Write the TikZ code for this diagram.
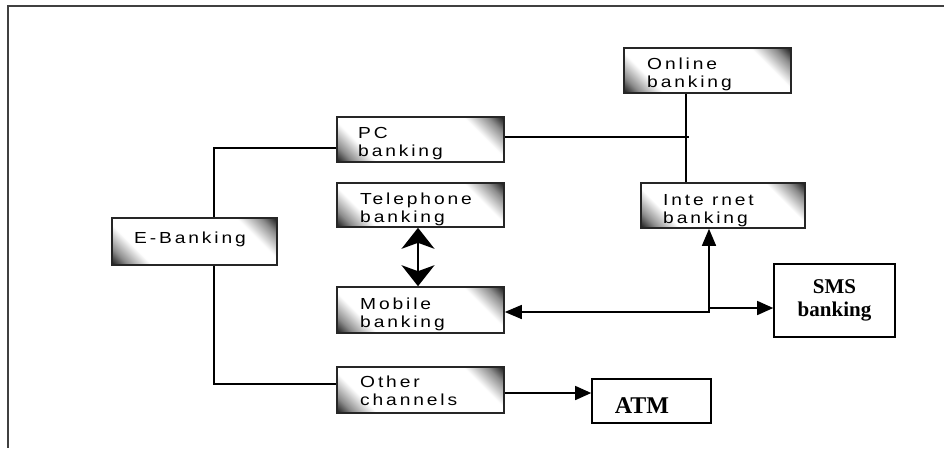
\documentclass[tikz,border=0pt]{standalone}
\usepackage{fontspec}
\setmainfont{Liberation Serif}
\newfontfamily\boxfont[FakeStretch=1.2,LetterSpace=18]{Liberation Sans}
\usetikzlibrary{arrows.meta}
\pgfdeclarehorizontalshading{cornershade}{100bp}{color(0bp)=(black); color(14.6bp)=(black!90); color(20bp)=(black!45); color(28bp)=(white); color(72bp)=(white); color(80bp)=(black!45); color(85.4bp)=(black!90); color(100bp)=(black)}
\tikzset{
  gbox/.style={draw=black!85, line width=1.6pt, shading=cornershade, shading angle=45, inner sep=0pt},
  wbox/.style={draw=black, line width=1.6pt, fill=white, inner sep=0pt},
  glabel/.style={font=\boxfont\fontsize{16}{18}\selectfont, align=left, inner sep=0pt, anchor=base west},
  slabel/.style={font=\bfseries\fontsize{21}{23}\selectfont, align=center},
  conn/.style={line width=1.5pt, draw=black},
  tip/.style={-{Triangle[length=16pt,width=14pt]}},
  bigtip/.style={{Stealth[length=21pt,width=33pt,inset=6pt]}-{Stealth[length=21pt,width=33pt,inset=6pt]}},
  midtip/.style={{Triangle[length=17pt,width=14pt]}-{Triangle[length=17pt,width=14pt]}},
  framepen/.style={line width=2.5pt, draw=black!75}
}
\begin{document}
\begin{tikzpicture}[x=1pt,y=-1pt]
\useasboundingbox (0,0) rectangle (944,448);
\draw[framepen] (944,6) -- (8,6) -- (8,448);

% shaded boxes
\node[gbox, minimum width=165pt, minimum height=47pt] (eb) at (194.5,241.5) {};
\node[gbox, minimum width=167pt, minimum height=45pt] (pc) at (420.5,139.5) {};
\node[gbox, minimum width=167pt, minimum height=44pt] (tel) at (420.5,205) {};
\node[gbox, minimum width=167pt, minimum height=46pt] (mob) at (420.5,310) {};
\node[gbox, minimum width=167pt, minimum height=46pt] (oth) at (420.5,390) {};
\node[gbox, minimum width=167pt, minimum height=45pt] (on) at (707.5,70.5) {};
\node[gbox, minimum width=164pt, minimum height=45pt] (inet) at (723,205.5) {};

% labels of shaded boxes (anchored at the baseline of the last line)
\node[glabel] (ebt) at (134,243) {E-Banking};
\node[glabel] (pct) at (358,156) {PC\\banking};
\node[glabel] (telt) at (360,222) {Telephone\\banking};
\node[glabel] (mobt) at (360,327) {Mobile\\banking};
\node[glabel] (otht) at (360,405) {Other\\channels};
\node[glabel] (ont) at (647,87) {Online\\banking};
\node[glabel] (inett) at (663,223) {Inte rnet\\banking};

% plain boxes
\node[wbox, slabel, minimum width=121pt, minimum height=73pt] (sms) at (834.5,300.5) {SMS\\banking};
\node[wbox, minimum width=119pt, minimum height=44pt] (atm) at (651.5,401) {};
\node[slabel, font=\bfseries\fontsize{24}{26}\selectfont, anchor=base, inner sep=0pt] (atmt) at (642,413) {ATM};

% connectors
\draw[conn] ([yshift=-8.5pt]pc.west) -| ([xshift=19.5pt]eb.north);
\draw[conn] ([xshift=19.5pt]eb.south) |- ([yshift=6pt]oth.west);
\coordinate (pcend) at (689,137);
\draw[conn] ([yshift=2.5pt]pc.east) -- (pcend);
\draw[conn] ([xshift=-21.5pt]on.south) -- ([xshift=-37pt]inet.north);
\draw[conn, bigtip] ([xshift=-2.5pt]tel.south) -- ([xshift=-2.5pt]mob.north);
\draw[conn, midtip] ([yshift=-2pt]mob.east) -| ([xshift=-14pt]inet.south);
\coordinate (smsj) at (709,308);
\draw[conn, tip] (smsj) -- (smsj -| sms.west);
\path ([yshift=-3pt]oth.east) coordinate (o1);
\draw[conn, tip] (o1) -- (o1 -| atm.west);
\end{tikzpicture}
\end{document}
